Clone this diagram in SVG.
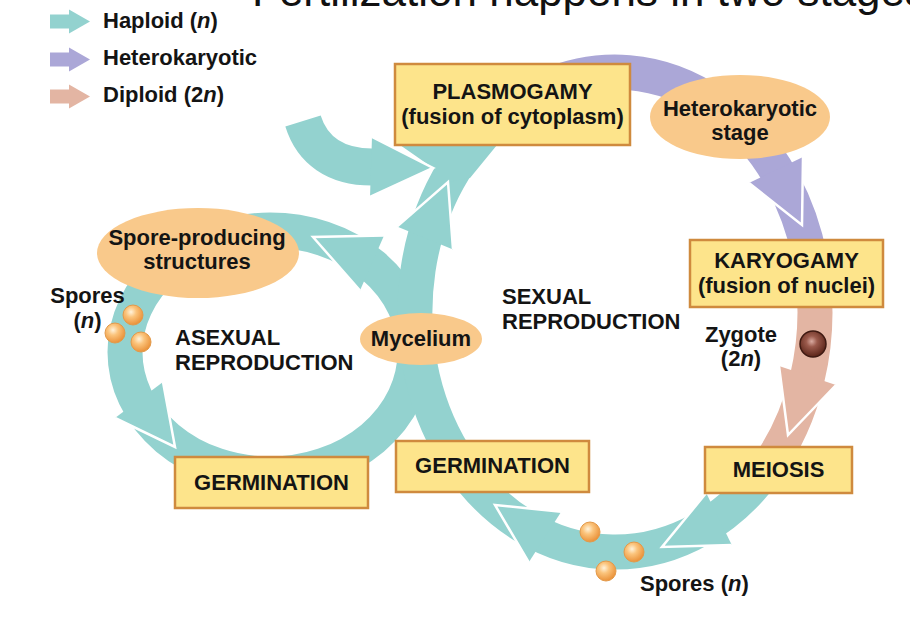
<svg xmlns="http://www.w3.org/2000/svg" width="910" height="624" viewBox="0 0 910 624">
<defs>
<style>
.t{font-family:"Liberation Sans",Arial,Helvetica,sans-serif;font-weight:bold;font-size:22px;fill:#141414}
.c{text-anchor:middle}
.box{fill:#fde48b;stroke:#cf8a3e;stroke-width:2.5}
.oval{fill:#f9c98b}
.band{fill:none;stroke-width:35}
.tl{stroke:#93d2cf}
.pu{stroke:#aba7d7}
.pk{stroke:#e3b5a3}
.ftl{fill:#93d2cf}
.fpu{fill:#aba7d7}
.fpk{fill:#e3b5a3}
.hl{fill:none;stroke:#ffffff;stroke-width:2.5;stroke-linejoin:miter}
.sp{fill:url(#spore);stroke:#e39a4a;stroke-width:1}
</style>
<radialGradient id="spore" cx="0.4" cy="0.35" r="0.65">
<stop offset="0" stop-color="#fff3dc"/>
<stop offset="0.4" stop-color="#fbc47c"/>
<stop offset="1" stop-color="#ea923a"/>
</radialGradient>
<radialGradient id="zyg" cx="0.45" cy="0.4" r="0.6">
<stop offset="0" stop-color="#d9aaa0"/>
<stop offset="0.35" stop-color="#9b5a4c"/>
<stop offset="1" stop-color="#5a2418"/>
</radialGradient>
</defs>
<rect width="910" height="624" fill="#ffffff"/>
<g id="title">
<text x="252" y="6" font-family="'Liberation Sans',Arial,sans-serif" font-size="44" fill="#111">Fertilization happens in two stages</text>
</g>
<g id="legend">
<polygon class="ftl" points="50,14.5 69,14.5 69,9.5 90,21.5 69,33.5 69,28.5 50,28.5"/>
<polygon class="fpu" points="50,52.5 69,52.5 69,47.5 90,59.5 69,71.5 69,66.5 50,66.5"/>
<polygon class="fpk" points="50,89.5 69,89.5 69,84.5 90,96.5 69,108.5 69,103.5 50,103.5"/>
<text class="t" x="103" y="28">Haploid (<tspan font-style="italic">n</tspan>)</text>
<text class="t" x="103" y="65">Heterokaryotic</text>
<text class="t" x="103" y="102">Diploid (2<tspan font-style="italic">n</tspan>)</text>
</g>
<g id="connectors">
<ellipse class="band tl" cx="270" cy="352" rx="145" ry="122"/>
<path class="band tl" d="M 765.9 469.5 A 200 240 0 1 1 515 104.2"/>
<path class="band pk" d="M 812.5 274.5 A 200 240 0 0 1 765.9 469.5"/>
<path class="band pu" d="M 546.6 86.5 A 200 240 0 0 1 812.5 274.5"/>
<path class="tl" fill="none" stroke-width="37" d="M 303 121 C 312 150 335 167 372 167"/>
<polygon class="ftl" points="400,145 497,145 470,178 448,182 433,168"/>
<polygon class="fpu" points="803,157 802,225 749,183"/>
<polyline class="hl" points="803,157 802,225 749,183"/>
<polygon class="fpk" points="836,385 788,435 779,366"/>
<polyline class="hl" points="836,385 788,435 779,366"/>
<polygon class="ftl" points="731.8,545 662,547 706.2,493"/>
<polyline class="hl" points="731.8,545 662,547 706.2,493"/>
<polygon class="ftl" points="561.2,511.7 495,505 528.8,562.3"/>
<polyline class="hl" points="561.2,511.7 495,505 528.8,562.3"/>
<polygon class="ftl" points="453,249.4 448,182 397,226.6"/>
<polyline class="hl" points="453,249.4 448,182 397,226.6"/>
<polygon class="ftl" points="372,137 433,168 370,197"/>
<polyline class="hl" points="372,137 433,168 370,197"/>
<polygon class="ftl" points="384,235.5 313,237 360,290.5"/>
<polyline class="hl" points="384,235.5 313,237 360,290.5"/>
<polygon class="ftl" points="163,382 175,447 115,418"/>
<polyline class="hl" points="163,382 175,447 115,418"/>
</g>
<g id="plasmogamy">
<rect class="box" x="395" y="64" width="235" height="81"/>
<text class="t c" x="512.5" y="99">PLASMOGAMY</text>
<text class="t c" x="512.5" y="124">(fusion of cytoplasm)</text>
</g>
<g id="heterokaryotic-stage">
<ellipse class="oval" cx="740" cy="117" rx="90" ry="42"/>
<text class="t c" x="740" y="116">Heterokaryotic</text>
<text class="t c" x="740" y="140">stage</text>
</g>
<g id="karyogamy">
<rect class="box" x="690" y="240" width="193" height="67"/>
<text class="t c" x="786.5" y="268">KARYOGAMY</text>
<text class="t c" x="786.5" y="293">(fusion of nuclei)</text>
</g>
<g id="zygote">
<text class="t c" x="741" y="342">Zygote</text>
<text class="t c" x="741" y="366">(2<tspan font-style="italic">n</tspan>)</text>
<circle cx="813" cy="344" r="13" fill="url(#zyg)" stroke="#3f1a12" stroke-width="1.5"/>
</g>
<g id="meiosis">
<rect class="box" x="705" y="447" width="147" height="46"/>
<text class="t c" x="778.5" y="477">MEIOSIS</text>
</g>
<g id="germination-sexual">
<rect class="box" x="396" y="441" width="193" height="51"/>
<text class="t c" x="492.5" y="473">GERMINATION</text>
</g>
<g id="germination-asexual">
<rect class="box" x="175" y="457" width="193" height="51"/>
<text class="t c" x="271.5" y="490">GERMINATION</text>
</g>
<g id="spore-producing-structures">
<ellipse class="oval" cx="198" cy="253" rx="101" ry="45"/>
<text class="t c" x="197" y="245">Spore-producing</text>
<text class="t c" x="197" y="269">structures</text>
</g>
<g id="spores-asexual">
<text class="t c" x="87.5" y="303">Spores</text>
<text class="t c" x="87.5" y="328">(<tspan font-style="italic">n</tspan>)</text>
<circle class="sp" cx="133" cy="315" r="10"/>
<circle class="sp" cx="115" cy="333" r="10"/>
<circle class="sp" cx="141" cy="342" r="10"/>
</g>
<g id="mycelium">
<ellipse class="oval" cx="421" cy="339" rx="61" ry="26"/>
<text class="t c" x="421" y="346">Mycelium</text>
</g>
<g id="asexual-label">
<text class="t" x="175" y="345">ASEXUAL</text>
<text class="t" x="175" y="370">REPRODUCTION</text>
</g>
<g id="sexual-label">
<text class="t" x="502" y="304">SEXUAL</text>
<text class="t" x="502" y="329">REPRODUCTION</text>
</g>
<g id="spores-sexual">
<circle class="sp" cx="590" cy="532" r="10"/>
<circle class="sp" cx="634" cy="552" r="10"/>
<circle class="sp" cx="606" cy="571" r="10"/>
<text class="t" x="640" y="591">Spores (<tspan font-style="italic">n</tspan>)</text>
</g>
</svg>
